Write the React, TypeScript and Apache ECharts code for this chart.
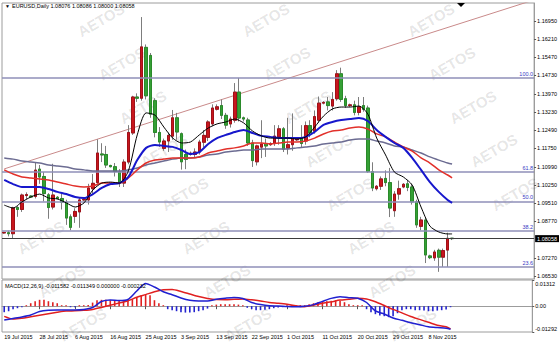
import React, { useEffect, useRef } from 'react';
import * as echarts from 'echarts';

const FONT = '"Liberation Sans", Arial, sans-serif';

// ---- categories (6-day broker weeks, Sun..Fri) ----
const barDates = [
  '19 Jul 2015','20 Jul 2015','21 Jul 2015','22 Jul 2015','23 Jul 2015','24 Jul 2015',
  '26 Jul 2015','27 Jul 2015','28 Jul 2015','29 Jul 2015','30 Jul 2015','31 Jul 2015',
  '2 Aug 2015','3 Aug 2015','4 Aug 2015','5 Aug 2015','6 Aug 2015','7 Aug 2015',
  '9 Aug 2015','10 Aug 2015','11 Aug 2015','12 Aug 2015','13 Aug 2015','14 Aug 2015',
  '16 Aug 2015','17 Aug 2015','18 Aug 2015','19 Aug 2015','20 Aug 2015','21 Aug 2015',
  '23 Aug 2015','24 Aug 2015','25 Aug 2015','26 Aug 2015','27 Aug 2015','28 Aug 2015',
  '30 Aug 2015','31 Aug 2015','1 Sep 2015','2 Sep 2015','3 Sep 2015','4 Sep 2015',
  '6 Sep 2015','7 Sep 2015','8 Sep 2015','9 Sep 2015','10 Sep 2015','11 Sep 2015',
  '13 Sep 2015','14 Sep 2015','15 Sep 2015','16 Sep 2015','17 Sep 2015','18 Sep 2015',
  '20 Sep 2015','21 Sep 2015','22 Sep 2015','23 Sep 2015','24 Sep 2015','25 Sep 2015',
  '27 Sep 2015','28 Sep 2015','29 Sep 2015','30 Sep 2015','1 Oct 2015','2 Oct 2015',
  '4 Oct 2015','5 Oct 2015','6 Oct 2015','7 Oct 2015','8 Oct 2015','9 Oct 2015',
  '11 Oct 2015','12 Oct 2015','13 Oct 2015','14 Oct 2015','15 Oct 2015','16 Oct 2015',
  '18 Oct 2015','19 Oct 2015','20 Oct 2015','21 Oct 2015','22 Oct 2015','23 Oct 2015',
  '25 Oct 2015','26 Oct 2015','27 Oct 2015','28 Oct 2015','29 Oct 2015','30 Oct 2015',
  '1 Nov 2015','2 Nov 2015','3 Nov 2015','4 Nov 2015','5 Nov 2015','6 Nov 2015',
  '8 Nov 2015','9 Nov 2015','10 Nov 2015','11 Nov 2015','12 Nov 2015','13 Nov 2015',
];
// empty slots of the chart shift on the right
const blankSlots = [
  '15 Nov 2015','16 Nov 2015','17 Nov 2015','18 Nov 2015','19 Nov 2015','20 Nov 2015',
  '22 Nov 2015','23 Nov 2015','24 Nov 2015','25 Nov 2015','26 Nov 2015','27 Nov 2015',
  '29 Nov 2015','30 Nov 2015','1 Dec 2015','2 Dec 2015','3 Dec 2015','4 Dec 2015',
];
const categories = [...barDates, ...blankSlots];

// ---- OHLC ----
const openP = [
  1.0829, 1.0830, 1.0826, 1.0933, 1.0925, 1.0982, 1.0980, 1.0978, 1.1090, 1.1060,
  1.0985, 1.0935, 1.0975, 1.0970, 1.0955, 1.0895, 1.0897, 1.0915, 1.0964, 1.0964,
  1.1010, 1.1035, 1.1152, 1.1150, 1.1105, 1.1100, 1.1078, 1.1033, 1.1119, 1.1238,
  1.1385, 1.1380, 1.1588, 1.1555, 1.1370, 1.1240, 1.1175, 1.1205, 1.1225, 1.1300,
  1.1235, 1.1150, 1.1150, 1.1150, 1.1160, 1.1200, 1.1220, 1.1275, 1.1335, 1.1350,
  1.1310, 1.1275, 1.1290, 1.1405, 1.1300, 1.1291, 1.1197, 1.1120, 1.1180, 1.1195,
  1.1190, 1.1195, 1.1222, 1.1255, 1.1176, 1.1190, 1.1210, 1.1215, 1.1205, 1.1268,
  1.1245, 1.1290, 1.1360, 1.1365, 1.1348, 1.1378, 1.1480, 1.1378, 1.1350, 1.1353,
  1.1322, 1.1350, 1.1340, 1.1080, 1.1010, 1.1020, 1.1052, 1.1035, 1.0920, 1.0988,
  1.1017, 1.1030, 1.1017, 1.0956, 1.0856, 1.0882, 1.0735, 1.0727, 1.0758, 1.0730,
  1.0759, 1.08076,
];
const closeP = [
  1.0831, 1.0826, 1.0931, 1.0925, 1.0984, 1.0986, 1.0976, 1.1086, 1.1058, 1.0990,
  1.0933, 1.0984, 1.0970, 1.0955, 1.0890, 1.0852, 1.0917, 1.0964, 1.0966, 1.1013,
  1.1032, 1.1156, 1.1148, 1.1107, 1.1100, 1.1080, 1.1033, 1.1119, 1.1240, 1.1385,
  1.1380, 1.1590, 1.1390, 1.1315, 1.1240, 1.1201, 1.1205, 1.1228, 1.1300, 1.1242,
  1.1120, 1.1130, 1.1155, 1.1160, 1.1201, 1.1228, 1.1283, 1.1340, 1.1345, 1.1310,
  1.1270, 1.1295, 1.1405, 1.1299, 1.1295, 1.1197, 1.1125, 1.1185, 1.1193, 1.1185,
  1.1195, 1.1225, 1.1255, 1.1172, 1.1190, 1.1215, 1.1213, 1.1195, 1.1268, 1.1238,
  1.1305, 1.1360, 1.1363, 1.1350, 1.1375, 1.1480, 1.1375, 1.1350, 1.1353, 1.1322,
  1.1345, 1.1335, 1.1080, 1.1013, 1.1020, 1.1050, 1.1035, 1.0931, 1.0988, 1.1010,
  1.1028, 1.1015, 1.0956, 1.0862, 1.0882, 1.0739, 1.0728, 1.0751, 1.0730, 1.0757,
  1.0807, 1.08058,
];
const lowP = [
  1.0826, 1.0815, 1.0808, 1.0895, 1.0915, 1.0965, 1.0972, 1.0970, 1.1030, 1.0958,
  1.0887, 1.0925, 1.0966, 1.0925, 1.0862, 1.0840, 1.0870, 1.0850, 1.0960, 1.0945,
  1.0990, 1.1030, 1.1119, 1.1095, 1.1097, 1.1060, 1.1017, 1.1017, 1.1110, 1.1230,
  1.1365, 1.1370, 1.1375, 1.1300, 1.1220, 1.1181, 1.1165, 1.1160, 1.1210, 1.1210,
  1.1088, 1.1090, 1.1145, 1.1135, 1.1150, 1.1180, 1.1205, 1.1265, 1.1330, 1.1295,
  1.1255, 1.1260, 1.1280, 1.1285, 1.1285, 1.1185, 1.1099, 1.1105, 1.1135, 1.1140,
  1.1185, 1.1185, 1.1190, 1.1160, 1.1150, 1.1165, 1.1205, 1.1180, 1.1190, 1.1220,
  1.1235, 1.1280, 1.1355, 1.1330, 1.1330, 1.1370, 1.1365, 1.1340, 1.1345, 1.1310,
  1.1310, 1.1325, 1.1075, 1.1000, 1.1003, 1.1005, 1.1020, 1.0894, 1.0895, 1.0965,
  1.1012, 1.1000, 1.0945, 1.0850, 1.0840, 1.0706, 1.0722, 1.0715, 1.0670, 1.0690,
  1.0690, 1.08000,
];
const highP = [
  1.0834, 1.0838, 1.0936, 1.0940, 1.0990, 1.0995, 1.0984, 1.1119, 1.1107, 1.1078,
  1.0992, 1.1112, 1.0980, 1.0990, 1.0965, 1.0905, 1.0930, 1.0972, 1.0970, 1.1030,
  1.1070, 1.1212, 1.1196, 1.1185, 1.1108, 1.1115, 1.1090, 1.1130, 1.1270, 1.1390,
  1.1400, 1.1712, 1.1600, 1.1565, 1.1380, 1.1262, 1.1215, 1.1240, 1.1332, 1.1320,
  1.1240, 1.1170, 1.1162, 1.1175, 1.1210, 1.1250, 1.1290, 1.1355, 1.1355, 1.1375,
  1.1320, 1.1305, 1.1442, 1.1463, 1.1305, 1.1300, 1.1210, 1.1190, 1.1290, 1.1215,
  1.1200, 1.1270, 1.1270, 1.1262, 1.1300, 1.1318, 1.1218, 1.1270, 1.1285, 1.1290,
  1.1330, 1.1387, 1.1368, 1.1385, 1.1405, 1.1495, 1.1505, 1.1390, 1.1358, 1.1370,
  1.1385, 1.1385, 1.1350, 1.1118, 1.1025, 1.1060, 1.1085, 1.1095, 1.1000, 1.1043,
  1.1033, 1.1045, 1.1030, 1.0965, 1.0895, 1.0890, 1.0740, 1.0760, 1.0765, 1.0765,
  1.0830, 1.08086,
];

// ---- moving averages & MACD, read at these bar indices ----
const sampleIdx = [
  0, 2, 4, 6, 8, 10, 12, 14, 16, 18, 20, 22, 24, 26, 28, 30, 32, 34, 36, 38,
  40, 42, 44, 46, 48, 50, 52, 54, 56, 58, 60, 62, 64, 66, 68, 70, 72, 74, 76, 78,
  80, 82, 84, 86, 88, 90, 92, 94, 96, 98, 100, 101,
];
const maBlack = [
  1.0943, 1.0931, 1.0956, 1.0976, 1.0988, 1.0972, 1.0968, 1.0952, 1.0935, 1.0952,
  1.1005, 1.1033, 1.1037, 1.1033, 1.1083, 1.1230, 1.1320, 1.1311, 1.1262, 1.1217,
  1.1197, 1.1201, 1.1230, 1.1258, 1.1275, 1.1283, 1.1295, 1.1279, 1.1246, 1.1226,
  1.1217, 1.1217, 1.1217, 1.1213, 1.1222, 1.1262, 1.1307, 1.1336, 1.1344, 1.1344,
  1.1348, 1.1315, 1.1217, 1.1148, 1.1078, 1.1058, 1.1025, 1.0935, 1.0857, 1.0833,
  1.0825, 1.0825,
];
const maBlue = [
  1.1046, 1.1029, 1.1017, 1.1017, 1.1017, 1.1009, 1.0997, 1.0988, 1.0976, 1.0972,
  1.0988, 1.1013, 1.1029, 1.1033, 1.1058, 1.1127, 1.1177, 1.1189, 1.1185, 1.1181,
  1.1168, 1.1152, 1.1160, 1.1193, 1.1217, 1.1230, 1.1242, 1.1250, 1.1238, 1.1226,
  1.1222, 1.1217, 1.1217, 1.1217, 1.1222, 1.1242, 1.1271, 1.1283, 1.1291, 1.1295,
  1.1299, 1.1287, 1.1250, 1.1222, 1.1197, 1.1177, 1.1136, 1.1087, 1.1037, 1.0997,
  1.0964, 1.0952,
];
const maRed = [
  1.1087, 1.1070, 1.1058, 1.1054, 1.1050, 1.1046, 1.1037, 1.1029, 1.1021, 1.1017,
  1.1021, 1.1033, 1.1033, 1.1033, 1.1054, 1.1087, 1.1115, 1.1127, 1.1131, 1.1136,
  1.1136, 1.1136, 1.1140, 1.1156, 1.1164, 1.1172, 1.1177, 1.1185, 1.1197, 1.1197,
  1.1193, 1.1197, 1.1201, 1.1201, 1.1205, 1.1217, 1.1234, 1.1246, 1.1250, 1.1258,
  1.1262, 1.1254, 1.1234, 1.1222, 1.1201, 1.1181, 1.1164, 1.1136, 1.1115, 1.1087,
  1.1066, 1.1054,
];
const maSlate = [
  1.1136, 1.1131, 1.1123, 1.1119, 1.1115, 1.1107, 1.1103, 1.1099, 1.1091, 1.1087,
  1.1082, 1.1082, 1.1082, 1.1082, 1.1087, 1.1095, 1.1107, 1.1115, 1.1123, 1.1131,
  1.1136, 1.1136, 1.1140, 1.1148, 1.1152, 1.1160, 1.1164, 1.1168, 1.1168, 1.1172,
  1.1172, 1.1172, 1.1172, 1.1177, 1.1181, 1.1185, 1.1193, 1.1197, 1.1201, 1.1209,
  1.1213, 1.1213, 1.1205, 1.1197, 1.1185, 1.1181, 1.1168, 1.1156, 1.1140, 1.1127,
  1.1115, 1.1111,
];
const macdMain = [
  -0.00691, -0.00616, -0.00541, -0.00441, -0.00266, -0.00200, -0.00190, -0.00190, -0.00190, -0.00165,
  -0.00065, 0.00235, 0.00310, 0.00280, 0.00335, 0.00761, 0.01137, 0.00961, 0.00721, 0.00576,
  0.00411, 0.00295, 0.00260, 0.00260, 0.00345, 0.00401, 0.00441, 0.00386, 0.00185, 0.00080,
  0.00020, 0.00010, -0.00015, -0.00025, 0.00000, 0.00080, 0.00240, 0.00391, 0.00471, 0.00426,
  0.00396, 0.00185, -0.00240, -0.00391, -0.00591, -0.00706, -0.00826, -0.00927, -0.01032, -0.01072,
  -0.01100, -0.011582,
];
const macdSignal = [
  -0.00511, -0.00641, -0.00601, -0.00526, -0.00451, -0.00376, -0.00306, -0.00245, -0.00230, -0.00205,
  -0.00160, -0.00060, 0.00050, 0.00160, 0.00270, 0.00446, 0.00581, 0.00721, 0.00821, 0.00841,
  0.00741, 0.00611, 0.00481, 0.00386, 0.00330, 0.00325, 0.00345, 0.00360, 0.00320, 0.00265,
  0.00185, 0.00145, 0.00095, 0.00020, -0.00025, 0.00060, 0.00145, 0.00220, 0.00305, 0.00350,
  0.00396, 0.00360, 0.00220, 0.00035, -0.00160, -0.00336, -0.00516, -0.00661, -0.00806, -0.00957,
  -0.01027, -0.011349,
];
const macdHist = [
  -0.0030, -0.0025, -0.0015, -0.0010, -0.0005, 0.0003, 0.0015, 0.0025, 0.0032, 0.0032,
  0.0025, 0.0020, 0.0015, 0.0005, 0.0002, -0.0002, -0.0002, 0.0002, 0.0003, 0.0006,
  0.0018, 0.0030, 0.0032, 0.0032, 0.0030, 0.0030, 0.0027, 0.0025, 0.0027, 0.0035,
  0.0045, 0.0055, 0.0060, 0.0055, 0.0030, 0.0015, 0.0001, -0.0015, -0.0020, -0.0025,
  -0.0030, -0.0032, -0.0032, -0.0030, -0.0025, -0.0020, -0.0012, 0.0001, 0.0008, 0.0010,
  0.0010, 0.0010, 0.0010, 0.0008, 0.0002, -0.0008, -0.0015, -0.0020, -0.0020, -0.0018,
  -0.0015, -0.0010, -0.0007, -0.0005, 0.0001, 0.0001, 0.0001, 0.0002, 0.0005, 0.0010,
  0.0015, 0.0020, 0.0022, 0.0025, 0.0027, 0.0030, 0.0027, 0.0020, 0.0010, 0.0004,
  0.0002, 0.0001, -0.0015, -0.0030, -0.0040, -0.0047, -0.0050, -0.0055, -0.0050, -0.0035,
  -0.0020, -0.0015, -0.0015, -0.0020, -0.0020, -0.0022, -0.0025, -0.0025, -0.0022, -0.0020,
  -0.0017, -0.000232,
];

// ---- axes, levels, drawings ----
const priceTicks = [1.1695, 1.1621, 1.1547, 1.1473, 1.1397, 1.1323, 1.1249, 1.1175, 1.1099, 1.1025, 1.0951, 1.0877, 1.0727, 1.0653];
const priceMin = 1.06407;
const priceMax = 1.17695;
const macdTicks = [0.01312, 0, -0.01292];
const macdMin = -0.01292;
const macdMax = 0.01312;
const fibLevels = [100, 61.8, 50, 38.2, 23.6];
const fibLow = 1.0452;
const fibHigh = 1.1464;
const trendIdx = [0, 119];
const trendPrice = [1.1091, 1.17793];

const UP = '#c8161d';
const DOWN = '#35a035';
const WICK = '#7d7d7d';
const BORDER = '#9c9c9c';

const fmt5 = (v: number) => v.toFixed(5);

export default function App() {
  const ref = useRef<HTMLDivElement>(null);

  useEffect(() => {
    if (!ref.current) return;
    const chart = echarts.init(ref.current, undefined, { renderer: 'svg' });
    const n = barDates.length;
    const last = n - 1;
    const pairs = (vals: number[]) => sampleIdx.map((ix, k) => [ix, vals[k]]);
    const labelEvery = (idx: number) => idx % 8 === 0 && idx < n;

    const wickData = openP.map((o, i) => [o, closeP[i], lowP[i], highP[i]]);
    const bodyData = openP.map((o, i) => [o, closeP[i], Math.min(o, closeP[i]), Math.max(o, closeP[i])]);

    const header = `EURUSD,Daily ${fmt5(openP[last])} ${fmt5(highP[last])} ${fmt5(lowP[last])} ${fmt5(closeP[last])}`;
    const macdTitle = `MACD(12,26,9) ${macdMain[macdMain.length - 1].toFixed(6)} ${macdSignal[macdSignal.length - 1].toFixed(6)} 0.000000 ${macdHist[last].toFixed(6)}`;

    // background watermark, tiled diagonally (kept fully inside the picture)
    const watermarks: any[] = [];
    for (let k = 0; k < 8; k++) {
      for (let m = -1; m <= 3; m++) {
        const x = 101 + 21 * k + 165 * m;
        const y = 20 + 43.5 * k;
        if (x < 27 || x > 533) continue;
        watermarks.push({
          type: 'text', x, y, rotation: Math.PI / 6, silent: true, z: 1,
          style: { text: 'AETOS', font: `bold 15px ${FONT}`, fill: 'rgba(0,0,0,0.11)', align: 'center', verticalAlign: 'middle' },
        });
      }
    }

    const lineSeries = (name: string, vals: number[], color: string, width: number) => ({
      name, type: 'line', xAxisIndex: 0, yAxisIndex: 0, data: pairs(vals), showSymbol: false,
      smooth: 0.25, lineStyle: { color, width }, z: 5, silent: true,
    });

    const option: any = {
      animation: false,
      backgroundColor: '#ffffff',
      textStyle: { fontFamily: FONT },
      grid: [
        { left: 2, top: 3, width: 533, height: 276, show: true, borderColor: BORDER, borderWidth: 1 },
        { left: 2, top: 280, width: 533, height: 52, show: true, borderColor: BORDER, borderWidth: 1 },
      ],
      xAxis: [
        {
          type: 'category', gridIndex: 0, data: categories, boundaryGap: true,
          axisLine: { show: false }, axisTick: { show: false }, axisLabel: { show: false }, splitLine: { show: false },
        },
        {
          type: 'category', gridIndex: 1, data: categories, boundaryGap: true,
          axisLine: { lineStyle: { color: BORDER } },
          axisTick: { show: true, alignWithLabel: true, interval: labelEvery, length: 3, lineStyle: { color: '#555' } },
          axisLabel: { interval: labelEvery, fontSize: 5.5, color: '#000', align: 'left', margin: 2, fontFamily: FONT },
          splitLine: { show: false },
        },
      ],
      yAxis: [
        {
          type: 'value', gridIndex: 0, position: 'right', min: priceMin, max: priceMax,
          splitLine: { show: false },
          axisLine: { show: true, lineStyle: { color: BORDER } },
          axisTick: { show: true, customValues: priceTicks, length: 2, lineStyle: { color: '#555' } },
          axisLabel: { customValues: priceTicks, formatter: (v: number) => fmt5(v), fontSize: 5.5, color: '#000', margin: 3, fontFamily: FONT },
        },
        {
          type: 'value', gridIndex: 1, position: 'right', min: macdMin, max: macdMax,
          splitLine: { show: false },
          axisLine: { show: true, lineStyle: { color: BORDER } },
          axisTick: { show: true, customValues: macdTicks, length: 2, lineStyle: { color: '#555' } },
          axisLabel: {
            customValues: macdTicks,
            formatter: (v: number) => (Math.abs(v) < 1e-9 ? '0.00' : v > 0 ? `{top|${fmt5(v)}}` : `{bot|${fmt5(v)}}`),
            fontSize: 5.5, color: '#000', margin: 3, fontFamily: FONT,
            rich: {
              top: { fontSize: 5.5, fontFamily: FONT, color: '#000', padding: [7, 0, 0, 0] },
              bot: { fontSize: 5.5, fontFamily: FONT, color: '#000', padding: [0, 0, 7, 0] },
            },
          },
        },
      ],
      graphic: [
        ...watermarks,
        { type: 'text', x: 5, y: 3, z: 10, style: { text: '▼', font: `5px ${FONT}`, fill: '#000' } },
        { type: 'text', x: 12, y: 3, z: 10, style: { text: header, font: `5.5px ${FONT}`, fill: '#000' } },
        { type: 'text', x: 5, y: 283, z: 10, style: { text: macdTitle, font: `5.5px ${FONT}`, fill: '#000' } },
        { type: 'polygon', z: 10, shape: { points: [[457, 3], [465, 3], [461, 7]] }, style: { fill: '#000' } },
      ],
      series: [
        {
          name: 'Trend', type: 'line', xAxisIndex: 0, yAxisIndex: 0, clip: true, showSymbol: false, silent: true, z: 2,
          data: trendIdx.map((ix, k) => [ix, trendPrice[k]]),
          lineStyle: { color: '#c98a8a', width: 1 },
        },
        {
          name: 'wicks', type: 'candlestick', xAxisIndex: 0, yAxisIndex: 0, data: wickData, barWidth: 3, z: 2, silent: true,
          itemStyle: { color: 'rgba(0,0,0,0)', color0: 'rgba(0,0,0,0)', borderColor: WICK, borderColor0: WICK, borderWidth: 1 },
        },
        {
          name: 'EURUSD', type: 'candlestick', xAxisIndex: 0, yAxisIndex: 0, data: bodyData, barWidth: 3, z: 3, silent: true,
          itemStyle: { color: UP, color0: DOWN, borderColor: '#a01018', borderColor0: '#2a8a2a', borderWidth: 1 },
          markLine: {
            silent: true, symbol: ['none', 'none'], animation: false, precision: 5,
            data: [
              ...fibLevels.map((lv) => ({
                yAxis: fibLow + ((fibHigh - fibLow) * lv) / 100,
                lineStyle: { color: '#8f8fb8', width: 1.5, type: 'solid' },
                label: { show: true, position: 'insideEndTop', formatter: lv.toFixed(1), color: '#3a3ac4', fontSize: 5.5, distance: 1, fontFamily: FONT },
              })),
              {
                yAxis: closeP[last],
                lineStyle: { color: '#3c3c3c', width: 1, type: 'solid' },
                label: { show: true, position: 'end', formatter: fmt5(closeP[last]), color: '#fff', backgroundColor: '#000', padding: [1, 2, 0, 2], fontSize: 5.5, distance: 1, fontFamily: FONT },
              },
            ],
          },
        },
        lineSeries('MA slate', maSlate, '#6c6c92', 1.5),
        lineSeries('MA red', maRed, '#e2302a', 1.5),
        lineSeries('MA blue', maBlue, '#1717cc', 2),
        lineSeries('MA black', maBlack, '#000000', 1),
        {
          name: 'Histogram', type: 'bar', xAxisIndex: 1, yAxisIndex: 1, barWidth: 1.6, barMinHeight: 1, silent: true,
          data: macdHist.map((v) => ({ value: v, itemStyle: { color: v >= 0 ? '#e02020' : '#2323cf' } })),
        },
        {
          name: 'Signal', type: 'line', xAxisIndex: 1, yAxisIndex: 1, data: pairs(macdSignal), showSymbol: false,
          smooth: 0.25, lineStyle: { color: '#e02020', width: 1.5 }, z: 5, silent: true,
        },
        {
          name: 'MACD', type: 'line', xAxisIndex: 1, yAxisIndex: 1, data: pairs(macdMain), showSymbol: false,
          smooth: 0.25, lineStyle: { color: '#2020d0', width: 1.5 }, z: 6, silent: true,
        },
      ],
    };

    chart.setOption(option);
    return () => chart.dispose();
  }, []);

  return <div ref={ref} style={{ position: 'absolute', left: 0, top: 0, width: 560, height: 344 }} />;
}
